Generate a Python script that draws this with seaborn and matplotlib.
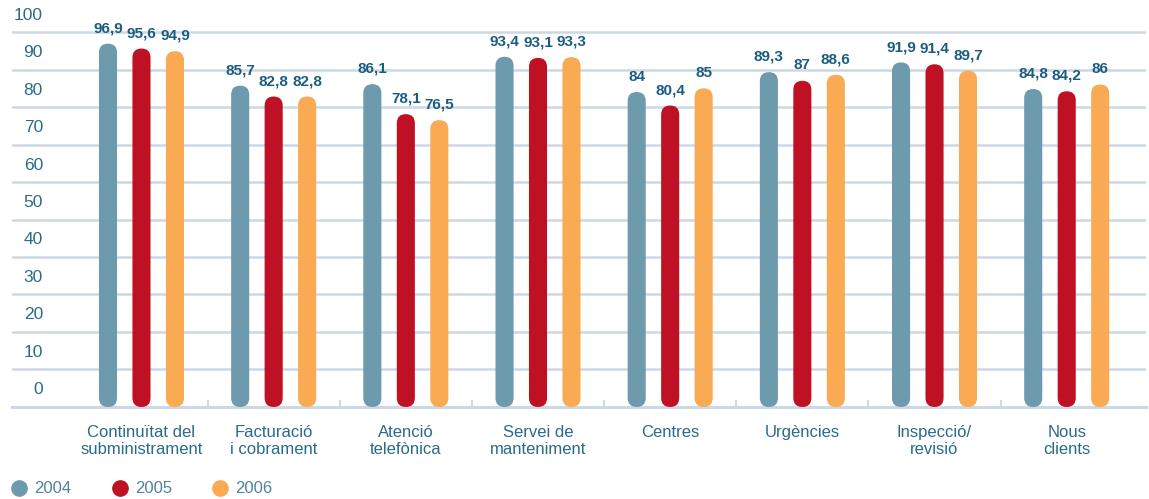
#!/usr/bin/env python3

import numpy as np
import pandas as pd
import seaborn as sns
import matplotlib.pyplot as plt
from matplotlib.patches import FancyBboxPatch
from matplotlib.lines import Line2D
from matplotlib.transforms import ScaledTranslation

CATEGORIES = ['Continuïtat del\nsubministrament', 'Facturació\ni cobrament',
              'Atenció\ntelefònica', 'Servei de\nmanteniment', 'Centres',
              'Urgències', 'Inspecció/\nrevisió', 'Nous\nclients']
YEARS = ['2004', '2005', '2006']
VALS_2004 = [96.9, 85.7, 86.1, 93.4, 84, 89.3, 91.9, 84.8]
VALS_2005 = [95.6, 82.8, 78.1, 93.1, 80.4, 87, 91.4, 84.2]
VALS_2006 = [94.9, 82.8, 76.5, 93.3, 85, 88.6, 89.7, 86]
YTICKS = list(range(0, 101, 10))

COLOURS = ['#6e9aad', '#be1123', '#f9aa52']
GRID = '#cad9e5'
DARK = '#1b5d80'
TICK = '#2a6a8a'

SET_DPI = 100
FIGSIZE = (11.49, 4.99)

df = pd.DataFrame({'cat': CATEGORIES * 3,
                   'year': np.repeat(YEARS, len(CATEGORIES)),
                   'val': VALS_2004 + VALS_2005 + VALS_2006})

sns.set_style('white')
plt.rcParams['font.family'] = ['Liberation Sans', 'DejaVu Sans']

fig = plt.figure(figsize=FIGSIZE, dpi=SET_DPI)
ax = fig.add_axes([0.0104, 0.1844, 0.987, 0.789])

sns.barplot(data=df, x='cat', y='val', hue='year', palette=COLOURS,
            saturation=1, width=0.76, gap=0.46, errorbar=None, legend=False,
            ax=ax, zorder=3)

ax.set_xlim(-0.98, 7.6)
ax.set_ylim(0, 105)
ax.set_xlabel('')
ax.set_ylabel('')

# rounded ends on the bars
fig.canvas.draw()
p = ax.transData.transform([(0, 0), (1, 1)])
aspect = (p[1, 0] - p[0, 0]) / (p[1, 1] - p[0, 1])
for bar in list(ax.patches):
    x, y = bar.get_x(), bar.get_y()
    w, h = bar.get_width(), bar.get_height()
    if h == 0:
        continue
    rb = FancyBboxPatch((x, y), w, h,
                        boxstyle=f'round,pad=0,rounding_size={w / 2}',
                        mutation_aspect=aspect, fc=bar.get_facecolor(),
                        ec='none', zorder=3)
    ax.add_patch(rb)
    v = y + h
    txt = f'{v:.1f}'.replace('.', ',') if v % 1 else f'{int(v)}'
    ax.annotate(txt, (x + w / 2, v), xytext=(0, 6), textcoords='offset points',
                ha='center', va='bottom', fontsize=11, fontweight='bold',
                color=DARK, clip_on=False, zorder=4)
    bar.remove()

for sp in ['top', 'right', 'left']:
    ax.spines[sp].set_visible(False)
ax.spines['bottom'].set_color(GRID)
ax.spines['bottom'].set_linewidth(2.2)

ax.set_yticks(YTICKS)
ax.yaxis.grid(True, color=GRID, linewidth=1.8, zorder=0)
ax.set_axisbelow(True)
ax.tick_params(axis='y', length=0, pad=0, labelsize=12.5, labelcolor=TICK)
for lab in ax.get_yticklabels():
    lab.set_transform(lab.get_transform() +
                      ScaledTranslation(0.31, 0.185, fig.dpi_scale_trans))

ax.set_xticks(np.arange(0.5, 7, 1), minor=True)
ax.tick_params(axis='x', which='major', length=0, pad=13, labelsize=12,
               labelcolor=TICK)
ax.tick_params(axis='x', which='minor', direction='in', length=5, width=1.5,
               color=GRID, bottom=True)
for lab in ax.get_xticklabels():
    lab.set_linespacing(1.15)

handles = [Line2D([], [], marker='o', ls='', markersize=11, color=c)
           for c in COLOURS]
fig.legend(handles, YEARS, loc='lower left', bbox_to_anchor=(-0.005, -0.025),
           ncol=3, frameon=False, fontsize=12, labelcolor='#4f849d',
           handletextpad=0.3, columnspacing=2.3, handlelength=1.2)

plt.savefig('out.png', dpi=SET_DPI)
plt.close()
